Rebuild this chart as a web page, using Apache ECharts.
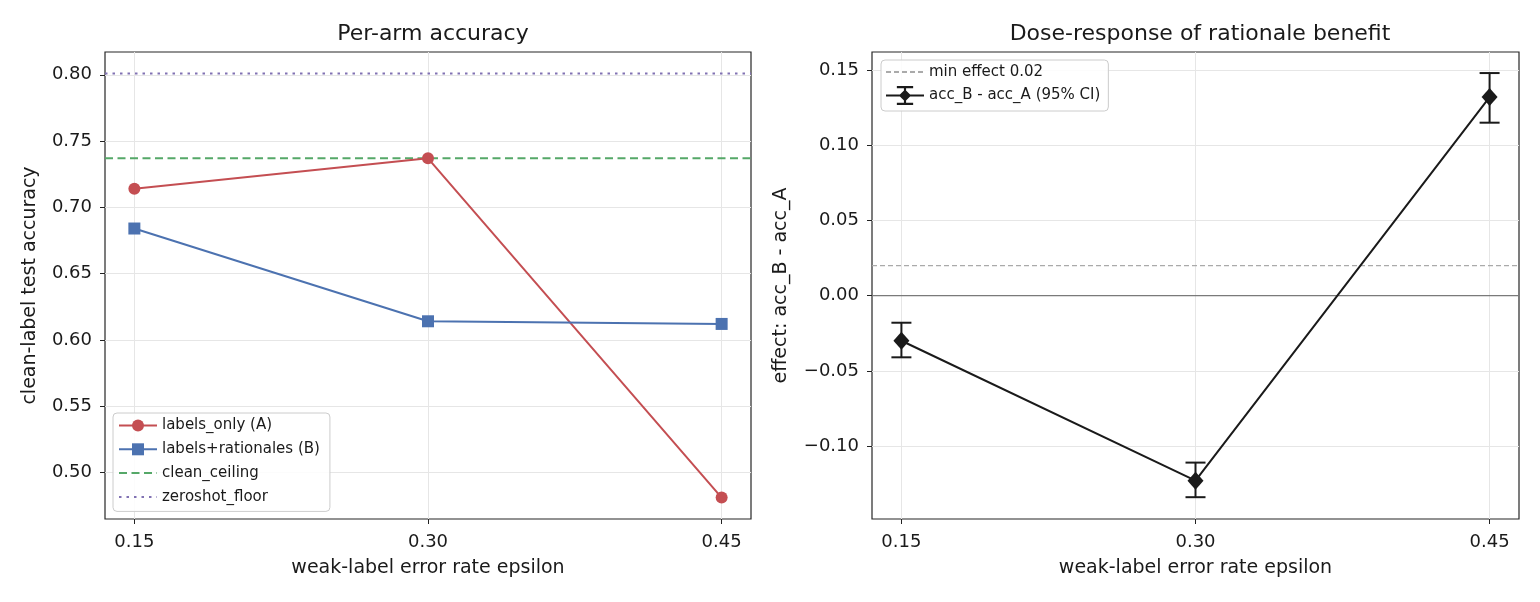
<!DOCTYPE html>
<html>
<head>
<meta charset="UTF-8">
<title>rationale dose-response</title>
<script src="https://cdn.jsdelivr.net/npm/echarts@6/dist/echarts.min.js"></script>
<style>
  html, body { margin: 0; padding: 0; background: #fff; }
  #main { width: 1540px; height: 602px; }
</style>
</head>
<body>
<div id="main"></div>
<script>
// --- data ---
var eps = [0.15, 0.30, 0.45];
var accA = [0.714, 0.737, 0.481];          // labels_only (A)
var accB = [0.684, 0.614, 0.612];          // labels+rationales (B)
var cleanCeiling = 0.737;
var zeroshotFloor = 0.801;
var effect = [-0.030, -0.123, 0.132];      // acc_B - acc_A
var ciLow = [-0.041, -0.134, 0.115];
var ciHigh = [-0.018, -0.111, 0.148];
var minEffect = 0.02;
var xTicks = [0.15, 0.30, 0.45];
var yTicksLeft = [0.50, 0.55, 0.60, 0.65, 0.70, 0.75, 0.80];
var yTicksRight = [-0.10, -0.05, 0.00, 0.05, 0.10, 0.15];

var FONT = 'DejaVu Sans';
var INK = '#1a1a1a';
var GRIDC = '#e6e6e6';
var xMin = 0.135, xMax = 0.465;

function fmt(v) {
    var s = Math.abs(v).toFixed(2);
    return v < -1e-9 ? '\u2212' + s : s;
}

function pairs(xs, ys) {
    var out = [];
    for (var i = 0; i < xs.length; i++) out.push([xs[i], ys[i]]);
    return out;
}

function xAxisFor(idx) {
    return {
        type: 'value', gridIndex: idx, min: xMin, max: xMax,
        name: 'weak-label error rate epsilon', nameLocation: 'middle', nameGap: 40,
        nameTextStyle: { fontFamily: FONT, fontSize: 19, color: INK },
        axisLine: { show: false, onZero: false },
        axisTick: { show: true, customValues: xTicks, length: 5, lineStyle: { color: '#222', width: 1 } },
        axisLabel: { customValues: xTicks, formatter: fmt, margin: 14, fontFamily: FONT, fontSize: 18, color: INK },
        splitLine: { show: false }
    };
}

function yAxisFor(idx, mn, mx, ticks, name, gap) {
    return {
        type: 'value', gridIndex: idx, min: mn, max: mx,
        name: name, nameLocation: 'middle', nameGap: gap, nameRotate: 90,
        nameTextStyle: { fontFamily: FONT, fontSize: 19, color: INK },
        axisLine: { show: false, onZero: false },
        axisTick: { show: true, customValues: ticks, length: 5, lineStyle: { color: '#222', width: 1 } },
        axisLabel: { customValues: ticks, formatter: fmt, margin: 13, fontFamily: FONT, fontSize: 18, color: INK },
        splitLine: { show: false }
    };
}

// light grid drawn with markLines on an empty series, kept under everything
function gridSeries(idx, yTicks) {
    var lines = [];
    xTicks.forEach(function (v) { lines.push({ xAxis: v }); });
    yTicks.forEach(function (v) { lines.push({ yAxis: v }); });
    return {
        type: 'line', xAxisIndex: idx, yAxisIndex: idx, data: [], z: 0, silent: true,
        markLine: {
            z: 0, silent: true, symbol: 'none', label: { show: false },
            lineStyle: { color: GRIDC, width: 1, type: 'solid' },
            emphasis: { disabled: true },
            data: lines
        }
    };
}

var errIcon = 'path://M0 6.3 L28 6.3 L28 7.7 L0 7.7 Z M13.2 0 L14.8 0 L14.8 14 L13.2 14 Z ' +
    'M8 0 L20 0 L20 1.6 L8 1.6 Z M8 12.4 L20 12.4 L20 14 L8 14 Z M14 2.5 L18.5 7 L14 11.5 L9.5 7 Z';

var legendText = { fontFamily: FONT, fontSize: 15, color: INK };

var option = {
    animation: false,
    backgroundColor: '#fff',
    title: [
        { text: 'Per-arm accuracy', left: 428, top: 18, textAlign: 'center',
          textStyle: { fontFamily: FONT, fontSize: 22, fontWeight: 'normal', color: INK } },
        { text: 'Dose-response of rationale benefit', left: 1195, top: 18, textAlign: 'center',
          textStyle: { fontFamily: FONT, fontSize: 22, fontWeight: 'normal', color: INK } }
    ],
    grid: [
        { left: 105, top: 52, width: 646, height: 467, show: true, borderColor: '#262626', borderWidth: 1.2, backgroundColor: 'transparent' },
        { left: 872, top: 52, width: 647, height: 467, show: true, borderColor: '#262626', borderWidth: 1.2, backgroundColor: 'transparent' }
    ],
    legend: [
        {
            data: [
                { name: 'labels_only (A)' },
                { name: 'labels+rationales (B)' },
                { name: 'clean_ceiling', itemStyle: { opacity: 0 } },
                { name: 'zeroshot_floor', itemStyle: { opacity: 0 } }
            ],
            orient: 'vertical', left: 113, top: 413, padding: [5, 10, 7, 5], itemGap: 8.8,
            itemWidth: 38, itemHeight: 15, z: 10,
            backgroundColor: 'rgba(255,255,255,0.85)', borderColor: '#cccccc', borderWidth: 1, borderRadius: 4,
            textStyle: legendText
        },
        {
            data: [
                { name: 'min effect 0.02', itemStyle: { opacity: 0 } },
                { name: 'acc_B - acc_A (95% CI)', icon: errIcon, itemStyle: { color: INK } }
            ],
            orient: 'vertical', left: 881, top: 60, padding: [4, 8, 6, 4], itemGap: 6,
            itemWidth: 38, itemHeight: 20, z: 10,
            backgroundColor: 'rgba(255,255,255,0.85)', borderColor: '#cccccc', borderWidth: 1, borderRadius: 4,
            textStyle: legendText
        }
    ],
    xAxis: [xAxisFor(0), xAxisFor(1)],
    yAxis: [
        yAxisFor(0, 0.4648, 0.8172, yTicksLeft, 'clean-label test accuracy', 65),
        yAxisFor(1, -0.1485, 0.162, yTicksRight, 'effect: acc_B - acc_A', 81)
    ],
    series: [
        gridSeries(0, yTicksLeft),
        gridSeries(1, yTicksRight),
        {
            name: 'labels_only (A)', type: 'line', xAxisIndex: 0, yAxisIndex: 0, z: 4,
            data: pairs(eps, accA), symbol: 'circle', symbolSize: 12,
            lineStyle: { color: '#c44e52', width: 2 }, itemStyle: { color: '#c44e52' }
        },
        {
            name: 'labels+rationales (B)', type: 'line', xAxisIndex: 0, yAxisIndex: 0, z: 4,
            data: pairs(eps, accB), symbol: 'rect', symbolSize: 12,
            lineStyle: { color: '#4c72b0', width: 2 }, itemStyle: { color: '#4c72b0' }
        },
        {
            name: 'clean_ceiling', type: 'line', xAxisIndex: 0, yAxisIndex: 0, z: 3,
            data: [[xMin, cleanCeiling], [xMax, cleanCeiling]], showSymbol: false, symbol: 'none',
            lineStyle: { color: '#55a868', width: 2, type: [8, 4.5] }, itemStyle: { color: '#55a868' }
        },
        {
            name: 'zeroshot_floor', type: 'line', xAxisIndex: 0, yAxisIndex: 0, z: 3,
            data: [[xMin, zeroshotFloor], [xMax, zeroshotFloor]], showSymbol: false, symbol: 'none',
            lineStyle: { color: '#8172b3', width: 2, type: [2.5, 5] }, itemStyle: { color: '#8172b3' }
        },
        {
            name: 'zero', type: 'line', xAxisIndex: 1, yAxisIndex: 1, z: 2,
            data: [[xMin, 0], [xMax, 0]], symbol: 'none', silent: true,
            lineStyle: { color: '#7a7a7a', width: 1.3 }
        },
        {
            name: 'min effect 0.02', type: 'line', xAxisIndex: 1, yAxisIndex: 1, z: 2,
            data: [[xMin, minEffect], [xMax, minEffect]], symbol: 'none',
            lineStyle: { color: '#aaaaaa', width: 1.3, type: [5, 3] }, itemStyle: { color: '#aaaaaa' }
        },
        {
            name: 'errbars', type: 'custom', xAxisIndex: 1, yAxisIndex: 1, z: 4,
            data: eps.map(function (x, i) { return [x, ciLow[i], ciHigh[i]]; }),
            encode: { x: 0, y: [1, 2] },
            renderItem: function (params, api) {
                var lo = api.coord([api.value(0), api.value(1)]);
                var hi = api.coord([api.value(0), api.value(2)]);
                var w = 10;
                var st = { stroke: INK, lineWidth: 2 };
                return {
                    type: 'group',
                    children: [
                        { type: 'line', shape: { x1: lo[0], y1: lo[1], x2: hi[0], y2: hi[1] }, style: st },
                        { type: 'line', shape: { x1: lo[0] - w, y1: lo[1], x2: lo[0] + w, y2: lo[1] }, style: st },
                        { type: 'line', shape: { x1: hi[0] - w, y1: hi[1], x2: hi[0] + w, y2: hi[1] }, style: st }
                    ]
                };
            }
        },
        {
            name: 'acc_B - acc_A (95% CI)', type: 'line', xAxisIndex: 1, yAxisIndex: 1, z: 5,
            data: pairs(eps, effect), symbol: 'diamond', symbolSize: [16, 18],
            lineStyle: { color: INK, width: 2 }, itemStyle: { color: INK }
        }
    ]
};

var chart = echarts.init(document.getElementById('main'), null, { renderer: 'canvas' });
chart.setOption(option);
</script>
</body>
</html>
